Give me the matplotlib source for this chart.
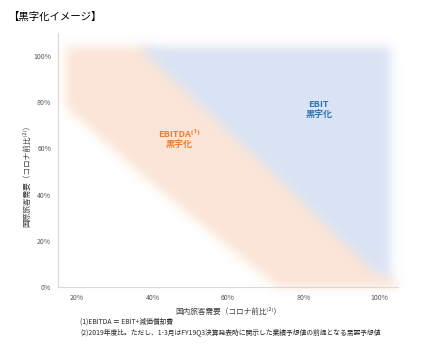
import numpy as np
import matplotlib
matplotlib.use("Agg")
import matplotlib.pyplot as plt
from matplotlib.colors import to_rgb

plt.rcParams['font.family'] = ['Noto Sans CJK JP', 'DejaVu Sans']

# 損益分岐ライン（国内需要, 国際需要） 読み取り値
dom_ebitda = [0.17, 0.17, 0.39, 0.73, 1.06]
intl_ebitda = [1.04, 0.78, 0.46, 0.0, 0.0]
dom_ebit = [0.36, 0.736, 0.98, 1.03, 1.03]
intl_ebit = [1.04, 0.465, 0.074, 0.03, 1.04]
top = 1.04

xticks = [0.2, 0.4, 0.6, 0.8, 1.0]
yticks = [0.0, 0.2, 0.4, 0.6, 0.8, 1.0]
orange = '#FBE5D6'
blue = '#DAE3F3'


def soft_edge(color, sigma=5.0):      # ぼかし（ソフトエッジ）
    rgb = to_rgb(color)

    def f(im, dpi):
        pad = int(3 * sigma)
        a = np.pad(im[:, :, 3], pad)
        r = np.arange(-pad, pad + 1)
        k = np.exp(-r**2 / (2 * sigma**2)); k /= k.sum()
        a = np.apply_along_axis(lambda m: np.convolve(m, k, mode='same'), 0, a)
        a = np.apply_along_axis(lambda m: np.convolve(m, k, mode='same'), 1, a)
        out = np.empty(a.shape + (4,))
        out[..., :3] = rgb
        out[..., 3] = a
        return out, -pad, -pad
    return f


fig = plt.figure(figsize=(4.37, 3.5), dpi=100)
ax = fig.add_axes([0.133, 0.18, 0.778, 0.726])

# オレンジ: EBITDAライン〜EBITライン（少し右へずらして青の下に潜らせる）
shift = 0.03
ox = dom_ebitda + [d + shift for d in dom_ebit[2::-1]] + [dom_ebit[0] + shift, dom_ebitda[0]]
oy = intl_ebitda + intl_ebit[2::-1] + [top, top]
for p in ax.fill(ox, oy, color=orange, lw=0, zorder=1):
    p.set_agg_filter(soft_edge(orange))

bx = dom_ebit + [dom_ebit[0]]
by = intl_ebit + [intl_ebit[0]]
for p in ax.fill(bx, by, color=blue, lw=0, zorder=2):
    p.set_agg_filter(soft_edge(blue))

ax.text(0.84, 0.77, "EBIT\n黒字化", color='#2E75B6', fontsize=6.5, fontweight='bold',
        ha='center', va='center', linespacing=1.1, zorder=5)
ax.text(0.47, 0.64, "EBITDA⁽¹⁾\n黒字化", color='#ED7D31', fontsize=6.5, fontweight='bold',
        ha='center', va='center', linespacing=1.1, zorder=5)

ax.set_xlim(0.15, 1.05)
ax.set_ylim(0, 1.1)
ax.set_xticks(xticks, [f"{int(round(v*100))}%" for v in xticks])
ax.set_yticks(yticks, [f"{int(round(v*100))}%" for v in yticks])
ax.tick_params(length=0, labelsize=5, colors='#595959', pad=5)
for s in ['top', 'right']:
    ax.spines[s].set_visible(False)
for s in ['left', 'bottom']:
    ax.spines[s].set_color('#D9D9D9'); ax.spines[s].set_linewidth(0.8)

ax.set_xlabel("国内旅客需要（コロナ前比⁽²⁾）", fontsize=5.5, color='#404040', labelpad=4)
ax.set_ylabel("国際旅客需要（コロナ前比⁽²⁾）", fontsize=5.5, color='#404040')
ax.yaxis.set_label_coords(-0.08, 0.445)

fig.text(0.018, 0.951, "【黒字化イメージ】", fontsize=7.5, va='center', ha='left')
fig.text(0.183, 0.08, "(1)EBITDA ＝ EBIT+減価償却費", fontsize=4.9, va='center', color='#262626')
fig.text(0.183, 0.051, "(2)2019年度比。ただし、1-3月はFY19Q3決算発表時に開示した業績予想値の前提となる需要予想値",
         fontsize=4.9, va='center', color='#262626')

fig.savefig("out.png", dpi=100)
